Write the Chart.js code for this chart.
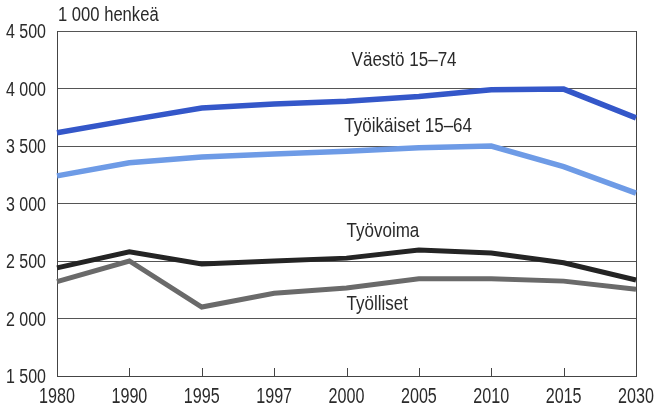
<!DOCTYPE html>
<html>
<head>
<meta charset="utf-8">
<script src="https://cdn.jsdelivr.net/npm/chart.js@4"></script>
<style>
  html, body { margin: 0; padding: 0; background: #fff; }
  #wrap { width: 661px; height: 408px; position: relative; }
</style>
</head>
<body>
<div id="wrap"><canvas id="chart"></canvas></div>
<script>
// Vuodet ja sarjat (1 000 henkeä)
const vuodet = ['1980', '1990', '1995', '1997', '2000', '2005', '2010', '2015', '2030'];
const vaesto = [3615, 3725, 3830, 3865, 3890, 3930, 3990, 3995, 3745];
const tyoikaiset = [3240, 3355, 3405, 3430, 3455, 3485, 3500, 3320, 3090];
const tyovoima = [2440, 2580, 2475, 2500, 2525, 2595, 2570, 2485, 2335];
const tyolliset = [2320, 2500, 2100, 2220, 2265, 2345, 2345, 2325, 2255];
const yTicks = [1500, 2000, 2500, 3000, 3500, 4000, 4500];

// Sarjojen nimet ja niiden paikka kuvassa (vuosi-indeksi, arvo tekstin pohjaviivalla)
const sarjaNimet = ['Väestö 15–74', 'Työikäiset 15–64', 'Työvoima', 'Työlliset'];
const nimiPaikat = [[4.07, 4196], [3.97, 3622], [4.0, 2709], [4.0, 2074]];

const FONT = "'Liberation Sans', Arial, sans-serif";
const TEXT = '#2a2a2a';

function muotoile(v) {
  return String(v).replace(/\B(?=(\d{3})+(?!\d))/g, ' ');
}

// Kapea teksti: vaakasuunnassa puristettu Liberation Sans
function kapeaTeksti(ctx, teksti, x, y, align, koko, sx) {
  ctx.save();
  ctx.translate(x, y);
  ctx.scale(sx, 1);
  ctx.font = koko + 'px ' + FONT;
  ctx.textAlign = align;
  ctx.textBaseline = 'alphabetic';
  ctx.fillText(teksti, 0, 0);
  ctx.restore();
}

// Akselien tekstit, yksikkö, sarjojen nimet ja x-akselin sisäiset väkäset
const koristeet = {
  id: 'koristeet',
  afterDraw(chart) {
    const { ctx, chartArea, scales } = chart;
    ctx.save();
    ctx.strokeStyle = '#444';
    ctx.lineWidth = 1;
    scales.x.ticks.forEach((t, i) => {
      const x = Math.round(scales.x.getPixelForTick(i)) + 0.5;
      ctx.beginPath();
      ctx.moveTo(x, chartArea.bottom);
      ctx.lineTo(x, chartArea.bottom - 8);
      ctx.stroke();
    });
    ctx.fillStyle = TEXT;
    scales.x.ticks.forEach((t, i) => {
      kapeaTeksti(ctx, vuodet[i], scales.x.getPixelForTick(i), chartArea.bottom + 27, 'center', 21.5, 0.75);
    });
    yTicks.forEach(v => {
      kapeaTeksti(ctx, muotoile(v), chartArea.left - 11, scales.y.getPixelForValue(v) + 7, 'right', 20, 0.8);
    });
    kapeaTeksti(ctx, '1 000 henkeä', chartArea.left + 1, 21, 'left', 20, 0.83);
    sarjaNimet.forEach((nimi, i) => {
      const [xi, yv] = nimiPaikat[i];
      kapeaTeksti(ctx, nimi, scales.x.getPixelForValue(xi), scales.y.getPixelForValue(yv), 'left', 20.5, 0.83);
    });
    ctx.restore();
  }
};

function sarja(data, color, width) {
  return {
    data,
    borderColor: color,
    backgroundColor: color,
    borderWidth: width,
    pointRadius: 0,
    tension: 0,
    borderJoinStyle: 'miter',
    borderCapStyle: 'butt'
  };
}

new Chart(document.getElementById('chart'), {
  type: 'line',
  data: {
    labels: vuodet,
    datasets: [
      sarja(vaesto, '#3457c9', 5.5),
      sarja(tyoikaiset, '#6e9be6', 5.5),
      sarja(tyovoima, '#242424', 5),
      sarja(tyolliset, '#6a6a6a', 5)
    ]
  },
  options: {
    responsive: true,
    maintainAspectRatio: false,
    animation: false,
    layout: { padding: { top: 31, right: 25, left: 0, bottom: 0 } },
    plugins: {
      legend: { display: false },
      tooltip: { enabled: false }
    },
    scales: {
      x: {
        offset: false,
        afterFit(scale) { scale.height = 32; },
        grid: { display: false, drawTicks: false },
        border: { display: true, color: '#444', width: 1 },
        ticks: { display: false, autoSkip: false }
      },
      y: {
        min: 1500,
        max: 4500,
        afterFit(scale) { scale.width = 57; },
        afterBuildTicks(scale) { scale.ticks = yTicks.map(v => ({ value: v })); },
        grid: { color: '#555', lineWidth: 1, drawTicks: false },
        border: { display: true, color: '#444', width: 1 },
        ticks: { display: false }
      }
    }
  },
  plugins: [koristeet, {
    id: 'oikeaReuna',
    beforeDatasetsDraw(chart) {
      const { ctx, chartArea } = chart;
      ctx.save();
      ctx.strokeStyle = '#444';
      ctx.lineWidth = 1;
      ctx.beginPath();
      ctx.moveTo(Math.round(chartArea.right) + 0.5, chartArea.top);
      ctx.lineTo(Math.round(chartArea.right) + 0.5, chartArea.bottom);
      ctx.stroke();
      ctx.restore();
    }
  }]
});
</script>
</body>
</html>
